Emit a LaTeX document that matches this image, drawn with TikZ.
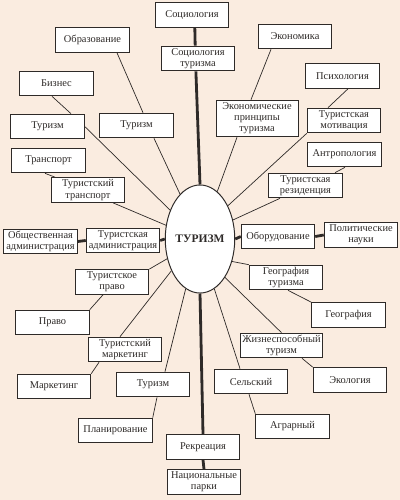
\documentclass[tikz,border=0pt]{standalone}
\usepackage{fontspec}
\setmainfont{Liberation Serif}
\usetikzlibrary{positioning, shapes.geometric, calc}
\definecolor{cpaper}{HTML}{FAECE0}
\definecolor{cink}{HTML}{2E2A28}
\tikzset{
  every picture/.style={line width=0.5pt},
  card/.style={draw=cink, fill=white, text=cink, align=center, inner sep=1pt,
    minimum width=1.84cm, minimum height=0.62cm, line width=0.6pt,
    font=\fontsize{7.4}{7.9}\selectfont},
  link/.style={draw=cink, line width=0.5pt},
  trunk/.style={draw=cink, line width=2pt},
}
\begin{document}
\begin{tikzpicture}[x=0.025cm, y=-0.025cm,
    hub/.style={ellipse, draw=cink, fill=white, text=cink, line width=0.7pt,
      minimum width=1.5cm, minimum height=2.7cm, inner sep=0pt,
      font=\fontsize{8.2}{9}\selectfont\bfseries},
    wide/.style={card, minimum width=2.07cm},
    tall/.style={card, minimum width=2.05cm, minimum height=0.92cm},
  ]
  \fill[cpaper] (0,0) rectangle (400,500);
  \useasboundingbox (0,0) rectangle (400,500);

  \node[hub] (tur) at (200,239) {ТУРИЗМ};

  % upper half
  \node[card] (soc)    at (192,15)      {Социология};
  \node[card] (soctur) at (198,58.5)    {Социология\\туризма};
  \node[card] (obr)    at (92.5,40)     {Образование};
  \node[card] (biz)    at (56.5,83.5)   {Бизнес};
  \node[card] (turA)   at (47.5,126.5)  {Туризм};
  \node[card] (turB)   at (136.5,125.5) {Туризм};
  \node[card] (trans)  at (48.5,160.5)  {Транспорт};
  \node[card] (ttrans) at (88,190)      {Туристский\\транспорт};
  \node[card] (ekon)   at (295,36.5)    {Экономика};
  \node[tall] (ekpr)   at (257,118.5)   {Экономические\\принципы\\туризма};
  \node[card] (psih)   at (342.5,76)    {Психология};
  \node[card] (tmot)   at (344,120.5)   {Туристская\\мотивация};
  \node[card] (antr)   at (344.5,154.5) {Антропология};
  \node[card] (tres)   at (305.5,185.5) {Туристская\\резиденция};
  % middle row
  \node[card] (obadm)  at (40.5,241.5)  {Общественная\\администрация};
  \node[card] (tadm)   at (123,240.5)   {Туристская\\администрация};
  \node[card] (obor)   at (278,236.5)   {Оборудование};
  \node[card] (polit)  at (361,235)     {Политические\\науки};
  % lower half
  \node[card] (tpravo) at (112,282)     {Туристское\\право};
  \node[card] (pravo)  at (52.5,322.5)  {Право};
  \node[card] (tmark)  at (125,349.5)   {Туристский\\маркетинг};
  \node[card] (mark)   at (54,386.5)    {Маркетинг};
  \node[card] (turC)   at (153,384.5)   {Туризм};
  \node[card] (plan)   at (115.5,430.5) {Планирование};
  \node[card] (rekr)   at (203,447)     {Рекреация};
  \node[card] (npark)  at (204,482)     {Национальные\\парки};
  \node[card] (geotur) at (286,277.5)   {География\\туризма};
  \node[card] (geo)    at (348.5,315)   {География};
  \node[wide] (zhiz)   at (281.5,345.5) {Жизнеспособный\\туризм};
  \node[card] (eko)    at (350,380)     {Экология};
  \node[card] (sel)    at (251,381.5)   {Сельский};
  \node[card] (agr)    at (292.5,426.5) {Аграрный};

  % main axes
  \draw[trunk] ([xshift=2pt]soc.south) -- ([xshift=-2pt]soctur.north);
  \draw[trunk] ([xshift=-1.5pt]soctur.south) -- (tur.north);
  \draw[trunk] (tur.south) -- (rekr.north);
  \draw[trunk] (rekr.south) -- (npark.north);
  \draw[trunk] (obadm.east) -- (tadm.west);
  \draw[trunk] (tadm.east) -- (tur.west);
  \draw[trunk] (tur.east) -- (obor.west);
  \draw[trunk] (obor.east) -- (polit.west);

  % spokes
  \draw[link] ($(obr.south)+(24.5,0)$) -- ($(turB.north)+(6.5,0)$);
  \draw[link] ($(turB.south)+(17.5,0)$) -- (tur.114);
  \draw[link] ($(biz.south)+(-4.5,0)$) -- ($(turA.north)+(23.5,0)$);
  \draw[link] (turA.east) -- (tur.136);
  \draw[link] ($(trans.south)+(-3.5,0)$) -- ($(ttrans.north)+(-33,0)$);
  \draw[link] ($(ttrans.south)+(25,0)$) -- (tur.158);
  \draw[link] (tpravo.north east) -- (tur.211);
  \draw[link] (pravo.north east) -- ($(tpravo.south)+(-9,0)$);
  \draw[link] ($(tmark.north)+(-5,0)$) -- (tur.228);
  \draw[link] (mark.north east) -- ($(tmark.south)+(-26,0)$);
  \draw[link] ($(turC.north)+(12,0)$) -- (tur.254);
  \draw[link] (plan.north east) -- ($(turC.south)+(4,0)$);
  \draw[link] ($(sel.north)+(-11,0)$) -- (tur.286);
  \draw[link] ($(sel.south)+(-2,0)$) -- (agr.north west);
  \draw[link] (zhiz.north) -- (tur.303);
  \draw[link] ($(zhiz.south)+(20.5,0)$) -- (eko.north west);
  \draw[link] (geotur.north west) -- (tur.325);
  \draw[link] ($(geotur.south)+(2,0)$) -- (geo.north west);
  \draw[link] ($(tres.south)+(-25.5,0)$) -- (tur.30);
  \draw[link] ($(antr.south)+(0.5,0)$) -- ($(tres.north)+(29.5,0)$);
  \draw[link] (tmot.south west) -- (tur.50);
  \draw[link] ($(psih.south)+(5.5,0)$) -- ($(tmot.north)+(-16,0)$);
  \draw[link] ($(ekpr.south)+(-20,0)$) -- (tur.70);
  \draw[link] ($(ekon.south)+(-24,0)$) -- ($(ekpr.north)+(-6,0)$);
\end{tikzpicture}
\end{document}
